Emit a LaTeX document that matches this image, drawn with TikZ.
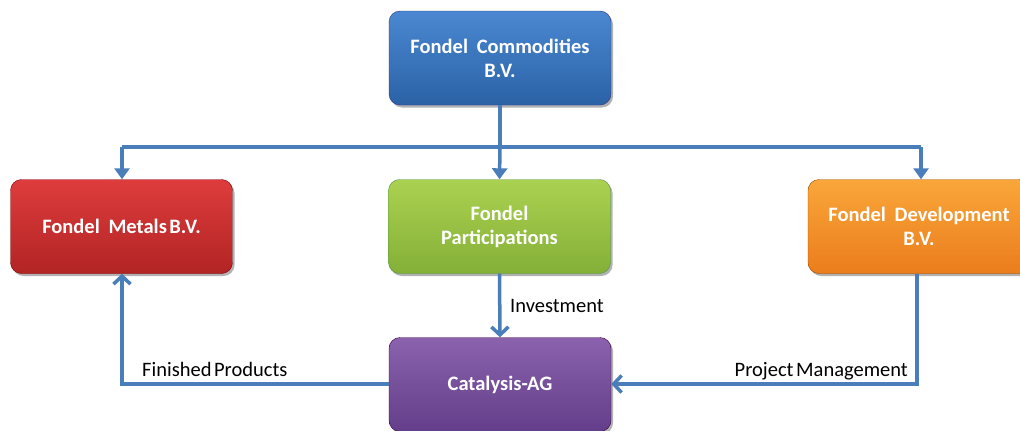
\documentclass[tikz,border=0pt]{standalone}
\usepackage{fontspec}
\setmainfont{Carlito}
\usetikzlibrary{arrows.meta,shadows}
\definecolor{lineblue}{HTML}{4A7EBB}
\newcommand{\wsp}{\hspace{0.2em}}
\begin{document}
\begin{tikzpicture}[x=1pt,y=-1pt,
  box/.style={rounded corners=11pt, minimum width=222pt, minimum height=94pt,
    align=center, text=white, inner sep=2pt,
    font=\fontsize{20.5}{24}\selectfont\bfseries,
    drop shadow={shadow xshift=2pt, shadow yshift=-2.5pt, opacity=0.3, fill=black}},
  conn/.style={draw=lineblue, line width=3.5pt},
  dnarrow/.style={conn, -{Triangle[width=15pt,length=11pt]}},
  openarrow/.style={conn, -{Straight Barb[width=17pt,length=8pt,line width=3.5pt]}},
  lab/.style={font=\fontsize{20.5}{24}\selectfont, text=black, inner sep=0pt}
]
\useasboundingbox (0,0) rectangle (1020,431);
\clip (0,0) rectangle (1020,431);
\fill[white] (0,0) rectangle (1020,431);

\node[box, draw=blue!40!black!80, top color={rgb,255:red,74;green,136;blue,209}, bottom color={rgb,255:red,43;green,98;blue,166}] (top) at (500,58) {Fondel\wsp{} Commodities\\B.V.};
\node[box, draw=red!50!black, top color={rgb,255:red,222;green,60;blue,60}, bottom color={rgb,255:red,178;green,36;blue,36}] (metals) at (121.5,226.5) {Fondel\wsp{} Metals\hspace{-0.1em} B.V.};
\node[box, draw=green!40!black!70, top color={rgb,255:red,171;green,209;blue,80}, bottom color={rgb,255:red,132;green,176;blue,56}] (part) at (499.5,226.5) {Fondel\\Participations};
\node[box, draw=orange!60!black, top color={rgb,255:red,249;green,166;blue,58}, bottom color={rgb,255:red,235;green,125;blue,28}] (dev) at (919,226.5) {Fondel\wsp{} Development\\B.V.};
\node[box, draw=violet!50!black, top color={rgb,255:red,138;green,98;blue,173}, bottom color={rgb,255:red,100;green,62;blue,138}] (cat) at (500,384.5) {Catalysis-AG};

\coordinate (split) at (500,147);
\coordinate (lft) at (122,147);
\coordinate (rgt) at (921,147);
\draw[conn] (top.south) -- (split);
\draw[conn] (lft) -- (rgt);
\draw[dnarrow] (lft) -- (lft |- metals.north);
\draw[dnarrow] (split) -- (part.north);
\draw[dnarrow] (rgt) -- (rgt |- dev.north);

\draw[openarrow] (part.south) -- (cat.north);
\coordinate (fp) at (122,384);
\draw[openarrow] (cat.west |- fp) -- (fp) -- (fp |- metals.south);
\coordinate (pm) at (917,384);
\draw[openarrow] (pm |- dev.south) -- (pm) -- (cat.east |- pm);

\node[lab, anchor=base west] (inv) at (510,312) {Investment};
\node[lab, anchor=base west] (fin) at (142,376) {Finished\hspace{-0.1em} Products};
\node[lab, anchor=base east] (proj) at (908,376) {Project\hspace{-0.1em} Management};
\end{tikzpicture}
\end{document}
